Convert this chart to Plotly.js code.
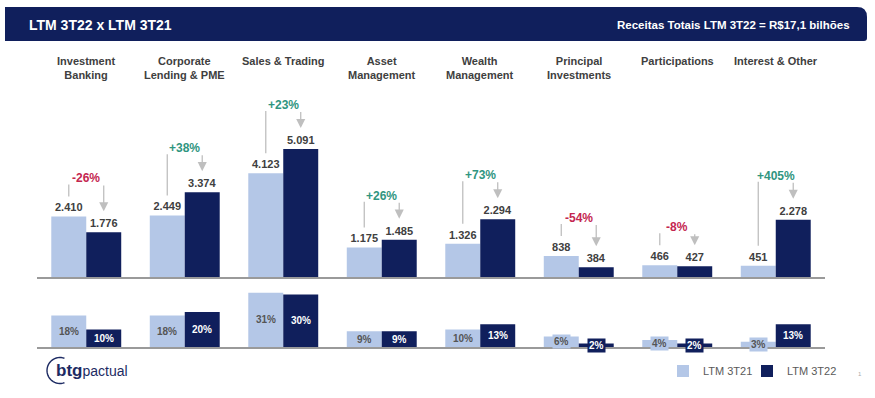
<!DOCTYPE html>
<html><head><meta charset="utf-8">
<script src="https://cdn.plot.ly/plotly-3.0.1.min.js"></script>
<style>html,body{margin:0;padding:0;background:#fff}#chart{width:875px;height:398px}</style>
</head><body><div id="chart"></div>
<script>
// ---- data ----
const categories = ['Investment<br>Banking','Corporate<br>Lending & PME','Sales & Trading','Asset<br>Management','Wealth<br>Management','Principal<br>Investments','Participations','Interest & Other'];
const seriesNames = ['LTM 3T21','LTM 3T22'];
const revenue21 = [2410, 2449, 4123, 1175, 1326, 838, 466, 451];
const revenue22 = [1776, 3374, 5091, 1485, 2294, 384, 427, 2278];
const growthPct = [-26, 38, 23, 26, 73, -54, -8, 405];
const share21 = [18, 18, 31, 9, 10, 6, 4, 3];
const share22 = [10, 20, 30, 9, 13, 2, 2, 13];
const titleText = 'LTM 3T22 x LTM 3T21';
const subtitleText = 'Receitas Totais LTM 3T22 = R$17,1 bilhões';
const logoBold = 'btg';
const logoLight = 'pactual';

// ---- styling / layout constants ----
const W = 875, H = 398;
const NAVY = '#101f5c', LIGHT = '#b4c7e7', GRAY = '#404040', ARROW = '#bfbfbf';
const GREEN = '#2f9580', RED = '#c4264f';
const xL = 37, xR = 825;
const topBase = 277, topPx = 0.02514, topMax = 8000;
const botBase = 347, botPx = 1.75, botMax = 38;
const bargap = 0.29;
const off = (1 - bargap) / 4;
const FONT = 'Liberation Sans, Arial, sans-serif';
const d = px => px / topPx; // top chart px -> data units
const P = (px, py) => (px / W).toFixed(5) + ',' + (1 - py / H).toFixed(5);

const common = {type: 'bar', hoverinfo: 'skip', cliponaxis: false};
const traces = [
  Object.assign({}, common, {x: categories, y: revenue21, name: seriesNames[0], marker: {color: LIGHT},
    texttemplate: '<b>%{y:,}</b>', textposition: 'outside', constraintext: 'none',
    textfont: {size: 11, color: GRAY, family: FONT}, xaxis: 'x', yaxis: 'y', legend: 'legend'}),
  Object.assign({}, common, {x: categories, y: revenue22, name: seriesNames[1], marker: {color: NAVY},
    texttemplate: '<b>%{y:,}</b>', textposition: 'outside', constraintext: 'none',
    textfont: {size: 11, color: GRAY, family: FONT}, xaxis: 'x', yaxis: 'y', legend: 'legend2'}),
  Object.assign({}, common, {x: categories, y: share21, name: seriesNames[0], marker: {color: LIGHT},
    xaxis: 'x2', yaxis: 'y2', showlegend: false}),
  Object.assign({}, common, {x: categories, y: share22, name: seriesNames[1], marker: {color: NAVY},
    xaxis: 'x2', yaxis: 'y2', showlegend: false})
];

const annotations = [];
const shapes = [];

// header band
const hx0 = 5, hx1 = 867, hy0 = 7, hy1 = 41, r = 10;
shapes.push({type: 'path', xref: 'paper', yref: 'paper', layer: 'below', fillcolor: NAVY, line: {width: 0},
  path: 'M' + P(hx0, hy0) + ' L' + P(hx1 - r, hy0) + ' Q' + P(hx1, hy0) + ' ' + P(hx1, hy0 + r) +
        ' L' + P(hx1, hy1 - 3) + ' Q' + P(hx1, hy1) + ' ' + P(hx1 - 3, hy1) + ' L' + P(hx0, hy1) + ' Z'});
annotations.push({xref: 'paper', yref: 'paper', x: 27 / W, y: 1 - 25 / H, xanchor: 'left', yanchor: 'middle',
  text: '<b>' + titleText + '</b>', showarrow: false, font: {size: 14, color: '#fff', family: FONT}});
annotations.push({xref: 'paper', yref: 'paper', x: 852 / W, y: 1 - 25 / H, xanchor: 'right', yanchor: 'middle',
  text: '<b>' + subtitleText + '</b>', showarrow: false, font: {size: 11.5, color: '#fff', family: FONT}});

categories.forEach((c, i) => {
  // category label
  annotations.push({xref: 'x', yref: 'paper', x: i, y: 1 - 53 / H, yanchor: 'top', xanchor: 'center',
    text: '<b>' + c + '</b>', showarrow: false, font: {size: 11, color: GRAY, family: FONT}});
  const a = revenue21[i], b = revenue22[i], g = growthPct[i];
  const levelPx = Math.max(a, b) * topPx + (g > 0 ? 44 : 38);
  annotations.push({xref: 'x', yref: 'y', x: i, y: d(levelPx), showarrow: false,
    text: '<b>' + (g > 0 ? '+' : '') + g + '%</b>', font: {size: 12, color: g > 0 ? GREEN : RED, family: FONT}});
  // left line (from light bar)
  shapes.push({type: 'line', xref: 'x', yref: 'y', x0: i - off, x1: i - off,
    y0: d(levelPx - 6), y1: d(a * topPx + 20), line: {color: ARROW, width: 1.3}});
  // right arrow (to dark bar)
  annotations.push({xref: 'x', yref: 'y', axref: 'x', ayref: 'y', x: i + off, y: d(b * topPx + 21),
    ax: i + off, ay: d(levelPx - 6), text: ' ', font: {size: 1}, borderpad: 0,
    showarrow: true, arrowhead: 2, arrowsize: 1.4, arrowwidth: 1.3, arrowcolor: ARROW, standoff: 0, startstandoff: 0});
  // share labels
  annotations.push({xref: 'x2', yref: 'y2', x: i - off, y: share21[i] / 2, showarrow: false,
    text: '<b>' + share21[i] + '%</b>', bgcolor: LIGHT, borderpad: 1, font: {size: 10, color: '#555', family: FONT}});
  annotations.push({xref: 'x2', yref: 'y2', x: i + off, y: share22[i] / 2, showarrow: false,
    text: '<b>' + share22[i] + '%</b>', bgcolor: NAVY, borderpad: 1, font: {size: 10, color: '#fff', family: FONT}});
});

// logo
let arc = '';
const cx = 60, cy = 370.5, cr = 13;
for (let k = 0; k <= 30; k++) {
  const ang = (70 + k * (220 / 30)) * Math.PI / 180;
  arc += (k ? ' L' : 'M') + P(cx + cr * Math.cos(ang), cy - cr * Math.sin(ang));
}
shapes.push({type: 'path', xref: 'paper', yref: 'paper', path: arc, line: {color: '#1d2b63', width: 1.4}});
annotations.push({xref: 'paper', yref: 'paper', x: 54 / W, y: 1 - 370 / H, xanchor: 'left', yanchor: 'middle',
  showarrow: false, text: '<b>' + logoBold + '</b><span style="font-size:14px">' + logoLight + '</span>',
  font: {size: 17, color: '#1d2b63', family: FONT}});
annotations.push({xref: 'paper', yref: 'paper', x: 864 / W, y: 1 - 379 / H, showarrow: false, text: '1',
  font: {size: 6, color: '#aaa', family: FONT}});

const axBase = {type: 'category', showgrid: false, zeroline: false, showticklabels: false, ticks: '',
  showline: true, linecolor: '#9a9a9a', linewidth: 1.5, range: [-0.5, categories.length - 0.5], fixedrange: true};
const yBase = {showgrid: false, zeroline: false, showticklabels: false, ticks: '', showline: false, fixedrange: true};
const legBase = {orientation: 'h', xanchor: 'left', y: 1 - 371 / H, yanchor: 'middle',
  font: {size: 11, color: '#595959', family: FONT}, itemwidth: 30, bgcolor: 'rgba(0,0,0,0)'};

const layout = {
  width: W, height: H, margin: {l: 0, r: 0, t: 0, b: 0, autoexpand: false}, autosize: false,
  paper_bgcolor: '#fff', plot_bgcolor: 'rgba(0,0,0,0)',
  barmode: 'group', bargap: bargap, bargroupgap: 0, separators: ',.',
  font: {family: FONT},
  xaxis: Object.assign({}, axBase, {domain: [xL / W, xR / W], anchor: 'y'}),
  yaxis: Object.assign({}, yBase, {domain: [(H - topBase) / H, (H - topBase + topMax * topPx) / H], range: [0, topMax], anchor: 'x'}),
  xaxis2: Object.assign({}, axBase, {domain: [xL / W, xR / W], anchor: 'y2'}),
  yaxis2: Object.assign({}, yBase, {domain: [(H - botBase) / H, (H - botBase + botMax * botPx) / H], range: [0, botMax], anchor: 'x2'}),
  showlegend: true,
  legend: Object.assign({}, legBase, {x: 663 / W}),
  legend2: Object.assign({}, legBase, {x: 747 / W}),
  annotations: annotations, shapes: shapes
};
Plotly.newPlot('chart', traces, layout, {displayModeBar: false, staticPlot: true});
</script></body></html>
